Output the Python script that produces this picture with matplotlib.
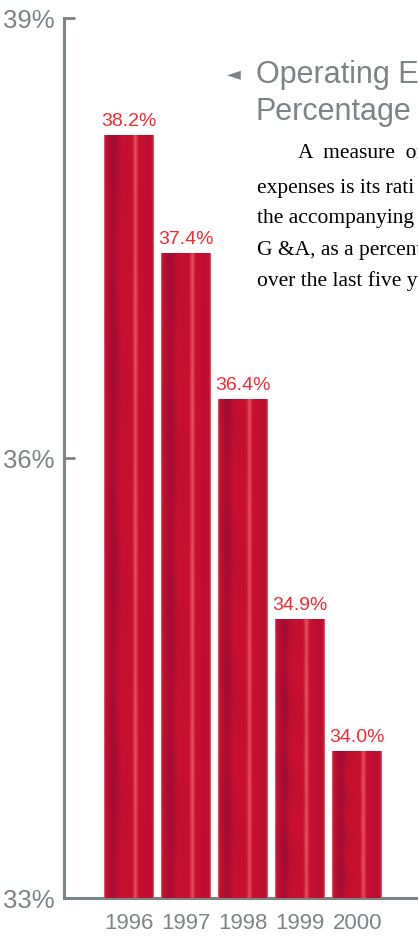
import numpy as np
import matplotlib
matplotlib.use("Agg")
import matplotlib.pyplot as plt
from matplotlib.colors import LinearSegmentedColormap

years = ["1996", "1997", "1998", "1999", "2000"]
values = [38.2, 37.4, 36.4, 34.9, 34.0]
value_labels = ["38.2%", "37.4%", "36.4%", "34.9%", "34.0%"]
yticks = [33, 36, 39]
ytick_labels = ["33%", "36%", "39%"]

W, H = 418, 940
fig = plt.figure(figsize=(W / 100, H / 100), dpi=100)
ax = fig.add_axes([64 / W, (940 - 898) / H, 354 / W, 880 / H])

gray = "#7d8488"
sans = ["Liberation Sans", "DejaVu Sans"]

x = np.arange(len(years))
bw = 0.875
bars = ax.bar(x, [v - 33 for v in values], bottom=33, width=bw,
              color="#c8102e", edgecolor="none", zorder=2)

# texture: deterministic horizontal profile with a light streak
cmap = LinearSegmentedColormap.from_list(
    "tex", [(0.0, "#800c3a"), (0.35, "#b20e32"), (0.55, "#cc1030"),
            (0.75, "#dc3a4c"), (1.0, "#f0a0a8")])
cols = np.linspace(0, 1, 80)
profile = (0.5
           - 0.24 * np.exp(-((cols - 0.18) / 0.1) ** 2)
           + 0.3 * np.exp(-((cols - 0.63) / 0.05) ** 2)
           - 0.08 * np.exp(-((cols - 0.88) / 0.08) ** 2)
           + 0.35 * np.exp(-(cols / 0.02) ** 2)
           + 0.35 * np.exp(-((1 - cols) / 0.02) ** 2))
rows = np.linspace(0, 1, 300)
img = profile[None, :] + 0.04 * np.sin(rows[:, None] * 23 + cols[None, :] * 5) \
    * np.exp(-((cols[None, :] - 0.3) / 0.25) ** 2)
img = np.clip(img, 0, 1)
for b in bars:
    x0, y0 = b.get_x(), b.get_y()
    im = ax.imshow(img, cmap=cmap, vmin=0, vmax=1, aspect="auto",
                   extent=[x0, x0 + b.get_width(), y0, y0 + b.get_height()],
                   origin="lower", zorder=3, interpolation="bilinear")
    im.set_clip_path(b)

for xi, v, lab in zip(x, values, value_labels):
    ax.text(xi, v + 0.035, lab, ha="center", va="bottom", color="#f42a30",
            fontsize=14, family=sans, zorder=4)

ax.set_xlim(-1.138, 5.06)
ax.set_ylim(33, 39)
ax.set_yticks(yticks)
ax.set_yticklabels(ytick_labels, family=sans, fontsize=18.5, color=gray)
ax.set_xticks(x)
ax.set_xticklabels(years, family=sans, fontsize=16, color=gray)
ax.tick_params(axis="y", direction="in", length=8, width=2, color=gray, pad=7)
ax.tick_params(axis="x", length=0, pad=11)
for s in ["top", "right"]:
    ax.spines[s].set_visible(False)
for s in ["left", "bottom"]:
    ax.spines[s].set_color(gray)
    ax.spines[s].set_linewidth(2.2)

# annotation text in the upper right (cut by the page edge as in the source)
fig.text(227 / W, 1 - 74 / H, "◄", color=gray, fontsize=13, va="center",
         family=["DejaVu Sans"])
fig.text(256 / W, 1 - 75 / H, "Operating E", color=gray,
         fontsize=22, va="center", family=sans)
fig.text(256 / W, 1 - 112 / H, "Percentage", color=gray,
         fontsize=22, va="center", family=sans)
serif = ["Liberation Serif", "DejaVu Serif"]
body = [(298, 154, "A  measure  of"),
        (257, 188, "expenses is its rati"),
        (257, 219, "the accompanying"),
        (257, 250, "G &A, as a percenta"),
        (257, 281, "over the last five y")]
for bx, by, t in body:
    fig.text(bx / W, 1 - by / H, t, color="black", fontsize=15.5,
             va="center", family=serif)

fig.savefig("out.png", dpi=100)
